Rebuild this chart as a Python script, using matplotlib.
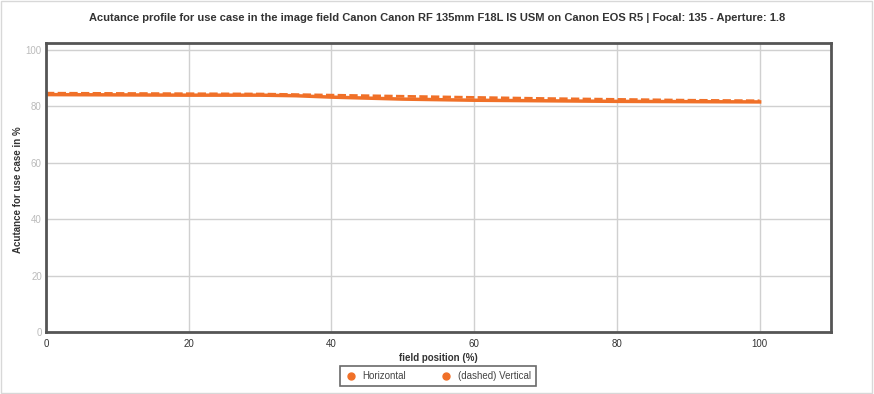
import matplotlib.pyplot as plt
from matplotlib.lines import Line2D

plt.rcParams['font.family'] = ['Liberation Sans', 'DejaVu Sans']

pos_h = [0, 10, 20, 30, 35, 40, 50, 60, 70, 80, 90, 100]
acut_h = [84.2, 84.1, 84.0, 84.0, 83.8, 83.3, 82.6, 82.2, 82.0, 81.8, 81.7, 81.6]
pos_v = [0, 10, 20, 30, 40, 50, 60, 70, 80, 90, 100]
acut_v = [84.7, 84.6, 84.5, 84.4, 84.0, 83.6, 83.2, 82.8, 82.5, 82.2, 82.0]

col = '#f07028'

fig = plt.figure(figsize=(8.74, 3.94), dpi=100)
ax = fig.add_axes([46/874, 1-332/394, (831-46)/874, (332-43)/394])
fig.patches.append(plt.Rectangle((0.001, 0.002), 0.997, 0.995, transform=fig.transFigure,
                                 fill=False, edgecolor='#d8d8d8', lw=1))

ax.plot(pos_h, acut_h, color=col, lw=2.5)
ax.plot(pos_v, acut_v, color=col, lw=2, ls=(0, (3, 1.2)))

ax.set_xlim(0, 110)
ax.set_ylim(0, 102.5)
ax.set_xticks([0, 20, 40, 60, 80, 100])
ax.set_yticks([0, 20, 40, 60, 80, 100])
ax.grid(True, color='#d0d0d0', lw=1)
ax.set_axisbelow(True)
for s in ax.spines.values():
    s.set_color('#555555')
    s.set_linewidth(2)
ax.tick_params(axis='y', colors='#cccccc', labelcolor='#bbbbbb', labelsize=7, length=0, pad=3)
ax.tick_params(axis='x', colors='#cccccc', labelcolor='#333333', labelsize=7, length=0, pad=5)

ax.set_xlabel('field position (%)', fontsize=7, fontweight='bold', color='#333333', labelpad=3)
fig.text(18/874, 1-190/394, 'Acutance for use case in %', rotation=90, ha='center', va='center',
         fontsize=7, fontweight='bold', color='#333333')
fig.text(0.5, 1-18/394, 'Acutance profile for use case in the image field Canon Canon RF 135mm F18L IS USM on Canon EOS R5 | Focal: 135 - Aperture: 1.8',
         ha='center', va='center', fontsize=8, fontweight='bold', color='#333333')

handles = [Line2D([], [], color=col, marker='o', ls='none', markersize=5),
           Line2D([], [], color=col, marker='o', ls='none', markersize=5)]
leg = fig.legend(handles, ['Horizontal', '(dashed) Vertical'], loc='center',
                 bbox_to_anchor=(438/874, 1-376/394), ncol=2, fontsize=7, frameon=True,
                 fancybox=False, edgecolor='#444444', handletextpad=0.6, columnspacing=3.5,
                 borderpad=0.5, handlelength=1.2)
leg.get_frame().set_linewidth(1.2)
for t in leg.get_texts():
    t.set_color('#444444')

fig.savefig('out.png', dpi=100)
